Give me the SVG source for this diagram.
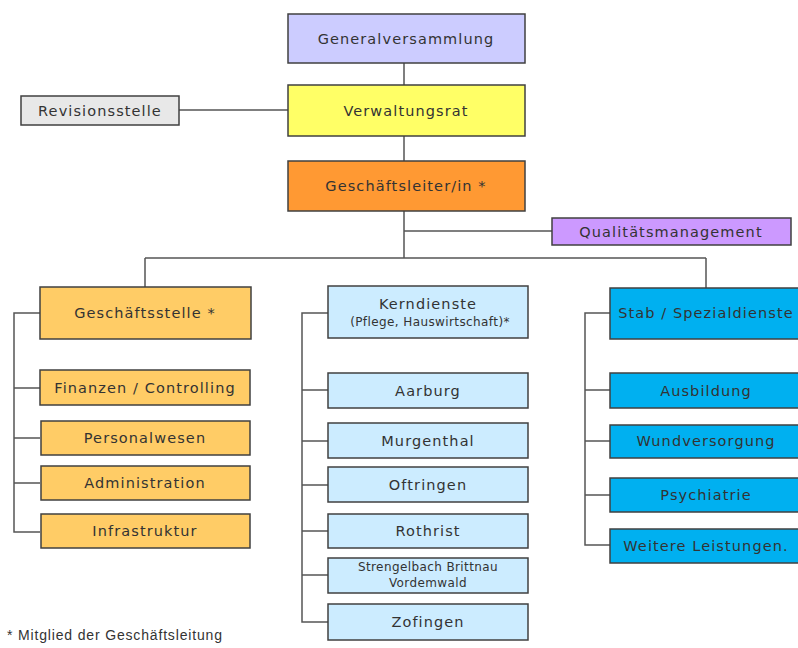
<svg xmlns="http://www.w3.org/2000/svg" width="798" height="648" viewBox="0 0 798 648">
<style>
.b{stroke:#404040;stroke-width:1.5}
.t{font-family:"DejaVu Sans","Liberation Sans",sans-serif;font-size:14.5px;fill:#333;text-anchor:middle;dominant-baseline:central;letter-spacing:1.1px}
.s{font-size:12px;letter-spacing:0.4px}
.c{stroke:#555;stroke-width:1.5;fill:none}
.gv{fill:#CCCCFF}.vr{fill:#FFFF66}.gl{fill:#FF9933}.rv{fill:#E8E8E8}.qm{fill:#CC99FF}
.gs{fill:#FFCC66}.kd{fill:#CCECFF}.sd{fill:#00B0F0}
</style>
<rect width="798" height="648" fill="#fff"/>
<g id="connectors">
<path class="c" d="M404 63V85M404 136V161M404 211V258M179 110H288M404 231H552M145 258H706M145 258V287M706 258V288"/>
<path class="c" d="M40 313H14V532H40M14 388H40M14 438H40M14 483H40"/>
<path class="c" d="M328 313H302V622H328M302 390H328M302 441H328M302 485H328M302 531H328M302 575H328"/>
<path class="c" d="M610 313H585V545H610M585 390H610M585 441H610M585 495H610"/>
</g>
<g id="generalversammlung"><rect class="b gv" x="288" y="14" width="237" height="49"/><text class="t" x="406" y="39">Generalversammlung</text></g>
<g id="verwaltungsrat"><rect class="b vr" x="288" y="85" width="237" height="51"/><text class="t" x="406" y="111">Verwaltungsrat</text></g>
<g id="geschaeftsleiter"><rect class="b gl" x="288" y="161" width="237" height="50"/><text class="t" x="406" y="186">Geschäftsleiter/in *</text></g>
<g id="revisionsstelle"><rect class="b rv" x="21" y="96" width="158" height="29"/><text class="t" x="100" y="111">Revisionsstelle</text></g>
<g id="qualitaetsmanagement"><rect class="b qm" x="552" y="218" width="239" height="27"/><text class="t" x="671" y="232">Qualitätsmanagement</text></g>
<g id="geschaeftsstelle"><rect class="b gs" x="40" y="287" width="211" height="52"/><text class="t" x="145" y="313">Geschäftsstelle *</text></g>
<g id="finanzen"><rect class="b gs" x="40" y="370" width="210" height="35"/><text class="t" x="145" y="388">Finanzen / Controlling</text></g>
<g id="personalwesen"><rect class="b gs" x="41" y="421" width="209" height="34"/><text class="t" x="145" y="438">Personalwesen</text></g>
<g id="administration"><rect class="b gs" x="41" y="466" width="209" height="34"/><text class="t" x="145" y="483">Administration</text></g>
<g id="infrastruktur"><rect class="b gs" x="41" y="514" width="209" height="34"/><text class="t" x="145" y="531">Infrastruktur</text></g>
<g id="kerndienste"><rect class="b kd" x="328" y="286" width="200" height="52"/><text class="t" x="428" y="304">Kerndienste</text><text class="t s" x="430" y="322">(Pflege, Hauswirtschaft)*</text></g>
<g id="aarburg"><rect class="b kd" x="328" y="373" width="200" height="35"/><text class="t" x="428" y="391">Aarburg</text></g>
<g id="murgenthal"><rect class="b kd" x="328" y="423" width="200" height="35"/><text class="t" x="428" y="441">Murgenthal</text></g>
<g id="oftringen"><rect class="b kd" x="328" y="467" width="200" height="35"/><text class="t" x="428" y="485">Oftringen</text></g>
<g id="rothrist"><rect class="b kd" x="328" y="514" width="200" height="34"/><text class="t" x="428" y="531">Rothrist</text></g>
<g id="strengelbach"><rect class="b kd" x="328" y="558" width="200" height="35"/><text class="t s" x="428" y="567">Strengelbach Brittnau</text><text class="t s" x="428" y="583">Vordemwald</text></g>
<g id="zofingen"><rect class="b kd" x="328" y="604" width="200" height="36"/><text class="t" x="428" y="622">Zofingen</text></g>
<g id="stab"><rect class="b sd" x="610" y="288" width="192" height="51"/><text class="t" x="706" y="313">Stab / Spezialdienste</text></g>
<g id="ausbildung"><rect class="b sd" x="610" y="373" width="192" height="35"/><text class="t" x="706" y="391">Ausbildung</text></g>
<g id="wundversorgung"><rect class="b sd" x="610" y="425" width="192" height="33"/><text class="t" x="706" y="441">Wundversorgung</text></g>
<g id="psychiatrie"><rect class="b sd" x="610" y="478" width="192" height="34"/><text class="t" x="706" y="495">Psychiatrie</text></g>
<g id="weitere"><rect class="b sd" x="610" y="529" width="192" height="34"/><text class="t" x="706" y="546">Weitere Leistungen.</text></g>
<text x="7" y="640" font-family="Liberation Sans, Arial, sans-serif" font-size="14" fill="#333" textLength="215" lengthAdjust="spacing">* Mitglied  der Geschäftsleitung</text>
</svg>
